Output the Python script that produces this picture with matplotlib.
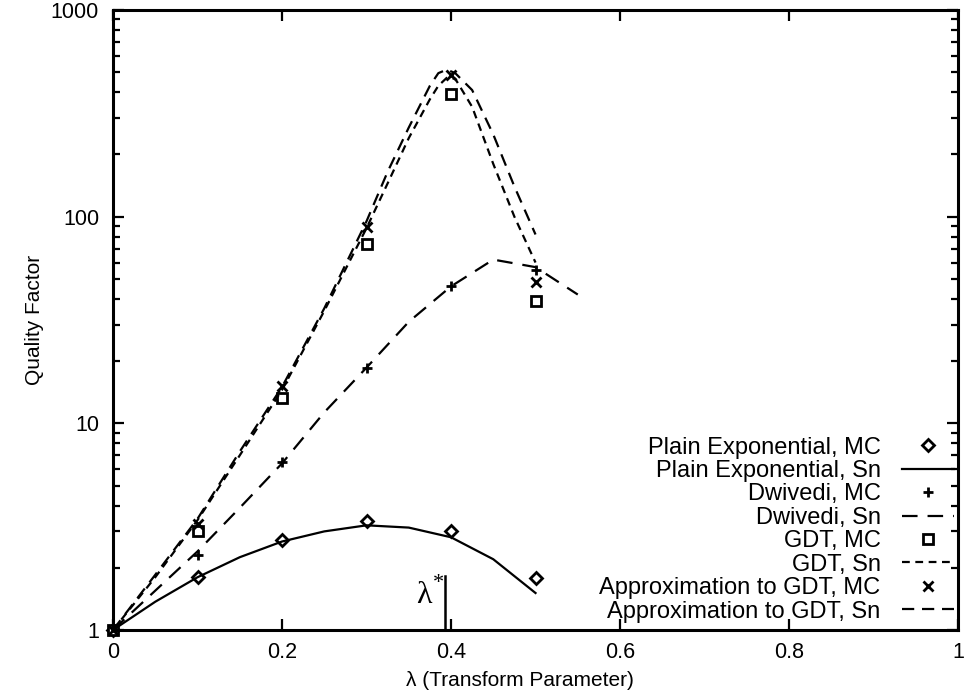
import matplotlib
matplotlib.use("Agg")
from matplotlib import pyplot as plt
from matplotlib.ticker import FixedLocator, FixedFormatter, LogLocator, NullFormatter

plt.rcParams["font.family"] = ["Liberation Sans", "DejaVu Sans"]

# Monte Carlo points
lam_mc = [0.0, 0.1, 0.2, 0.3, 0.4, 0.5]
plain_mc = [1.0, 1.81, 2.73, 3.37, 3.01, 1.79]
dwivedi_mc = [1.0, 2.31, 6.49, 18.6, 46.0, 55.0]
gdt_mc = [1.0, 3.01, 13.2, 74.0, 392.0, 38.9]
approx_mc = [1.0, 3.27, 15.1, 89.0, 487.0, 48.2]

# Sn curves
lam_plain = [0.0, 0.05, 0.1, 0.15, 0.2, 0.25, 0.3, 0.35, 0.4, 0.45, 0.5]
plain_sn = [1.0, 1.37, 1.80, 2.25, 2.68, 3.0, 3.21, 3.13, 2.81, 2.20, 1.51]

lam_dwivedi = [0.0, 0.05, 0.1, 0.15, 0.2, 0.25, 0.3, 0.35, 0.4, 0.45, 0.5, 0.55]
dwivedi_sn = [1.0, 1.55, 2.4, 3.9, 6.4, 11.3, 18.6, 31.0, 46.0, 62.0, 57.0, 42.0]

lam_gdt = [0.0, 0.05, 0.1, 0.15, 0.2, 0.25, 0.3, 0.325, 0.35, 0.375, 0.385, 0.395,
           0.405, 0.425, 0.45, 0.475, 0.5]
gdt_sn = [1.0, 1.8, 3.4, 7.0, 14.5, 35.0, 88.0, 145.0, 240.0, 370.0, 430.0, 470.0,
          465.0, 340.0, 180.0, 100.0, 60.0]
approx_sn = [1.0, 1.85, 3.45, 7.3, 15.0, 36.0, 95.0, 165.0, 270.0, 430.0, 495.0, 515.0,
             495.0, 410.0, 250.0, 140.0, 82.0]

lam_star = 0.393

fig = plt.figure(figsize=(9.75, 6.92), dpi=100)
ax = fig.add_axes([0.1159, 0.0896, 0.8667, 0.8959])

ms = 7
ax.plot(lam_mc, plain_mc, linestyle="none", marker="D", markersize=6, mfc="white",
        mec="black", mew=2, clip_on=False, label="Plain Exponential, MC")
ax.plot(lam_plain, plain_sn, color="black", lw=1.6, label="Plain Exponential, Sn")
ax.plot(lam_mc, dwivedi_mc, linestyle="none", marker="+", markersize=ms, mec="black",
        mew=2, clip_on=False, label="Dwivedi, MC")
ax.plot(lam_dwivedi, dwivedi_sn, color="black", lw=1.6, dashes=(7, 4.5),
        label="Dwivedi, Sn")
ax.plot(lam_mc, gdt_mc, linestyle="none", marker="s", markersize=ms, mfc="white",
        mec="black", mew=2, clip_on=False, label="GDT, MC")
ax.plot(lam_gdt, gdt_sn, color="black", lw=1.6, dashes=(3.5, 2.5), label="GDT, Sn")
ax.plot(lam_mc, approx_mc, linestyle="none", marker="x", markersize=ms, mec="black",
        mew=2, clip_on=False, label="Approximation to GDT, MC")
ax.plot(lam_gdt, approx_sn, color="black", lw=1.6, dashes=(5.5, 3.5),
        label="Approximation to GDT, Sn")

# lambda* marker
ax.plot([lam_star, lam_star], [1.0, 1.82], color="black", lw=1.8)
ax.text(lam_star - 0.025, 1.47, "λ", ha="center", va="center",
        fontsize=23, family="Liberation Serif")
ax.text(lam_star - 0.008, 1.68, "*", ha="center", va="center",
        fontsize=16, family="Liberation Serif")

ax.set_xlim(0, 1)
ax.set_yscale("log")
ax.set_ylim(1, 1000)

ax.xaxis.set_major_locator(FixedLocator([0, 0.2, 0.4, 0.6, 0.8, 1.0]))
ax.xaxis.set_major_formatter(FixedFormatter(["0", "0.2", "0.4", "0.6", "0.8", "1"]))
ax.yaxis.set_major_locator(FixedLocator([1, 10, 100, 1000]))
ax.yaxis.set_major_formatter(FixedFormatter(["1", "10", "100", "1000"]))
ax.yaxis.set_minor_locator(LogLocator(base=10, subs=range(2, 10)))
ax.yaxis.set_minor_formatter(NullFormatter())

ax.tick_params(which="both", direction="in", top=True, right=True, width=1.6,
               labelsize=15.5)
ax.tick_params(axis="x", pad=9)
ax.tick_params(axis="y", pad=10)
ax.tick_params(which="major", length=8)
ax.tick_params(which="minor", length=5)
for sp in ax.spines.values():
    sp.set_linewidth(2.2)

ax.set_xlabel("λ (Transform Parameter)", fontsize=15)
ax.xaxis.set_label_coords(0.482, -0.066)
ax.set_ylabel("Quality Factor", fontsize=15)
ax.yaxis.set_label_coords(-0.082, 0.5)

ax.legend(loc="lower right", bbox_to_anchor=(0.995, 0.012), frameon=False,
          markerfirst=False, fontsize=17, handlelength=2.2, labelspacing=0.06,
          handletextpad=0.9, borderaxespad=0, borderpad=0)

fig.savefig("out.png", dpi=100)
